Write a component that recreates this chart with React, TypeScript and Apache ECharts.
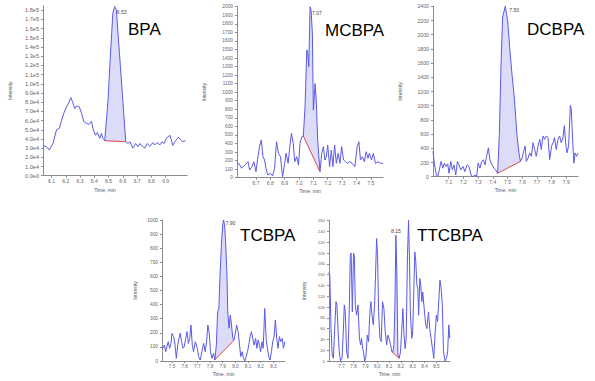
import React, { useEffect, useRef } from 'react';
import * as echarts from 'echarts';

// ---------- BPA ----------
const bpaTime = [6.04, 6.064, 6.084, 6.11, 6.135, 6.154, 6.17, 6.186, 6.205, 6.22, 6.235, 6.247, 6.263, 6.275, 6.294, 6.31, 6.326, 6.345, 6.363, 6.38, 6.39, 6.408, 6.422, 6.438, 6.45, 6.46, 6.473, 6.496, 6.515, 6.53, 6.543, 6.555, 6.566, 6.583, 6.6, 6.62, 6.636, 6.65, 6.67, 6.69, 6.706, 6.72, 6.737, 6.755, 6.77, 6.79, 6.81, 6.825, 6.84, 6.86, 6.875, 6.89, 6.904, 6.93, 6.94, 6.95, 6.965, 6.975, 6.99, 7.005, 7.02, 7.04];
const bpaIntensity = [32700, 31600, 28000, 35000, 50000, 51500, 60000, 68000, 75000, 79000, 85000, 80500, 73000, 76000, 75000, 68000, 59000, 57000, 56000, 59000, 51500, 44000, 47000, 40600, 46000, 40600, 38000, 82000, 137000, 177000, 184000, 180000, 155000, 119000, 82000, 37000, 35000, 37000, 30000, 35000, 31600, 35000, 32000, 30000, 35000, 32000, 36000, 33500, 36000, 33500, 37000, 35000, 40600, 44000, 39000, 33000, 37000, 39000, 42000, 39000, 37000, 38000];
const bpaPeakRange = [6.473, 6.62];
const bpaXTicks = [6.1, 6.2, 6.3, 6.4, 6.5, 6.6, 6.7, 6.8, 6.9];
const bpaYTicks = [0, 10000, 20000, 30000, 40000, 50000, 60000, 70000, 80000, 90000, 100000, 110000, 120000, 130000, 140000, 150000, 160000, 170000, 180000];

// ---------- MCBPA ----------
const mcbpaTime = [6.568, 6.58, 6.6, 6.614, 6.63, 6.645, 6.656, 6.672, 6.686, 6.7, 6.714, 6.725, 6.737, 6.749, 6.76, 6.772, 6.783, 6.8, 6.816, 6.83, 6.843, 6.857, 6.871, 6.885, 6.9, 6.91, 6.924, 6.936, 6.947, 6.96, 6.97, 6.984, 6.996, 7.007, 7.02, 7.03, 7.042, 7.054, 7.06, 7.068, 7.077, 7.084, 7.093, 7.1, 7.112, 7.12, 7.13, 7.14, 7.146, 7.158, 7.17, 7.18, 7.19, 7.2, 7.213, 7.225, 7.236, 7.248, 7.26, 7.273, 7.285, 7.297, 7.31, 7.324, 7.338, 7.354, 7.37, 7.389, 7.405, 7.417, 7.428, 7.442, 7.455, 7.468, 7.48, 7.49, 7.505, 7.518, 7.532, 7.55, 7.568, 7.585];
const mcbpaIntensity = [175, 168, 110, 137, 160, 187, 90, 129, 187, 70, 246, 363, 440, 246, 207, 90, 31, 51, 20, 110, 421, 285, 246, 12, 168, 285, 168, 363, 519, 402, 187, 246, 148, 402, 480, 488, 830, 1494, 1474, 1300, 2000, 1960, 1690, 790, 1100, 910, 440, 207, 70, 285, 363, 207, 246, 382, 129, 324, 129, 382, 168, 285, 168, 363, 207, 187, 168, 187, 168, 129, 363, 421, 207, 246, 187, 304, 226, 285, 207, 285, 168, 187, 168, 168];
const mcbpaPeakRange = [7.03, 7.146];
const mcbpaXTicks = [6.7, 6.8, 6.9, 7.0, 7.1, 7.2, 7.3, 7.4, 7.5];
const mcbpaYTicks = [0, 100, 200, 300, 400, 500, 600, 700, 800, 900, 1000, 1100, 1200, 1300, 1400, 1500, 1600, 1700, 1800, 1900, 2000];

// ---------- DCBPA ----------
const dcbpaTime = [6.993, 7.002, 7.016, 7.025, 7.036, 7.048, 7.06, 7.07, 7.082, 7.093, 7.102, 7.114, 7.125, 7.136, 7.148, 7.159, 7.17, 7.182, 7.197, 7.21, 7.225, 7.238, 7.252, 7.265, 7.28, 7.29, 7.3, 7.313, 7.324, 7.336, 7.347, 7.358, 7.37, 7.38, 7.395, 7.408, 7.42, 7.433, 7.445, 7.456, 7.467, 7.485, 7.501, 7.515, 7.531, 7.547, 7.565, 7.578, 7.588, 7.6, 7.61, 7.62, 7.628, 7.64, 7.651, 7.662, 7.674, 7.685, 7.696, 7.708, 7.72, 7.73, 7.742, 7.753, 7.765, 7.776, 7.787, 7.8, 7.81, 7.82, 7.832, 7.844, 7.855, 7.866, 7.878, 7.887, 7.896, 7.905, 7.916, 7.928, 7.934, 7.943, 7.952, 7.96, 7.97, 7.98];
const dcbpaIntensity = [359, 191, 24, 0, 96, 215, 120, 191, 144, 182, 48, 215, 96, 167, 24, 215, 167, 96, 144, 72, 167, 144, 24, 0, 24, 0, 191, 120, 215, 239, 167, 287, 407, 239, 167, 120, 96, 48, 622, 1579, 2249, 2400, 2201, 1818, 1435, 1100, 574, 335, 215, 263, 359, 431, 215, 263, 335, 287, 478, 383, 287, 431, 526, 383, 574, 526, 574, 550, 239, 431, 478, 550, 383, 526, 574, 478, 550, 718, 478, 335, 431, 1005, 957, 526, 191, 335, 287, 335];
const dcbpaPeakRange = [7.433, 7.588];
const dcbpaXTicks = [7.1, 7.2, 7.3, 7.4, 7.5, 7.6, 7.7, 7.8, 7.9];
const dcbpaYTicks = [0, 200, 400, 600, 800, 1000, 1200, 1400, 1600, 1800, 2000, 2200, 2400];

// ---------- TCBPA ----------
const tcbpaTime = [7.421, 7.427, 7.44, 7.45, 7.46, 7.47, 7.481, 7.492, 7.5, 7.513, 7.524, 7.534, 7.545, 7.555, 7.565, 7.576, 7.587, 7.597, 7.608, 7.618, 7.629, 7.64, 7.65, 7.66, 7.67, 7.684, 7.7, 7.71, 7.723, 7.736, 7.75, 7.762, 7.773, 7.783, 7.794, 7.804, 7.815, 7.828, 7.838, 7.85, 7.86, 7.87, 7.88, 7.89, 7.9, 7.907, 7.915, 7.923, 7.933, 7.94, 7.95, 7.96, 7.97, 7.98, 7.99, 8.0, 8.01, 8.022, 8.033, 8.043, 8.054, 8.064, 8.075, 8.085, 8.096, 8.106, 8.117, 8.127, 8.138, 8.148, 8.16, 8.17, 8.18, 8.19, 8.2, 8.21, 8.22, 8.232, 8.243, 8.253, 8.264, 8.274, 8.285, 8.295, 8.306, 8.316, 8.327, 8.337, 8.348, 8.358, 8.37, 8.38, 8.39];
const tcbpaIntensity = [100, 90, 113, 66, 102, 137, 90, 125, 196, 173, 113, 19, 113, 160, 196, 137, 90, 102, 160, 208, 125, 160, 255, 113, 66, 137, 90, 31, 7, 66, 125, 66, 137, 255, 196, 66, 19, 54, 7, 113, 350, 373, 633, 822, 964, 1000, 964, 846, 633, 350, 232, 326, 255, 160, 149, 196, 255, 208, 113, 31, 66, 19, 0, 31, 66, 113, 173, 208, 160, 113, 160, 90, 149, 113, 66, 137, 90, 373, 160, 90, 31, 7, 66, 137, 173, 291, 160, 90, 173, 137, 160, 90, 137];
const tcbpaPeakRange = [7.838, 7.99];
const tcbpaXTicks = [7.5, 7.6, 7.7, 7.8, 7.9, 8.0, 8.1, 8.2, 8.3];
const tcbpaYTicks = [0, 100, 200, 300, 400, 500, 600, 700, 800, 900, 1000];

// ---------- TTCBPA ----------
const ttcbpaTime = [7.593, 7.6, 7.61, 7.62, 7.63, 7.64, 7.652, 7.66, 7.67, 7.68, 7.69, 7.703, 7.714, 7.722, 7.73, 7.742, 7.753, 7.765, 7.773, 7.78, 7.79, 7.8, 7.807, 7.815, 7.826, 7.838, 7.85, 7.86, 7.868, 7.877, 7.885, 7.894, 7.905, 7.916, 7.927, 7.94, 7.947, 7.956, 7.967, 7.978, 7.986, 7.995, 8.003, 8.012, 8.023, 8.034, 8.045, 8.057, 8.068, 8.08, 8.09, 8.1, 8.113, 8.124, 8.133, 8.141, 8.15, 8.158, 8.166, 8.175, 8.186, 8.197, 8.208, 8.217, 8.225, 8.236, 8.245, 8.256, 8.265, 8.273, 8.28, 8.292, 8.3, 8.31, 8.318, 8.326, 8.335, 8.343, 8.35, 8.36, 8.368, 8.377, 8.385, 8.394, 8.402, 8.41, 8.42, 8.433, 8.444, 8.455, 8.467, 8.478, 8.49, 8.5, 8.51, 8.523, 8.53, 8.54, 8.55, 8.56, 8.573, 8.585, 8.595, 8.605, 8.613];
const ttcbpaIntensity = [165, 159, 60, 11, 5, 54, 110, 104, 54, 17, 0, 5, 54, 104, 91, 17, 5, 104, 196, 200, 91, 200, 196, 104, 85, 104, 42, 30, 42, 23, 17, 0, 8, 48, 36, 97, 110, 85, 67, 104, 159, 227, 196, 91, 42, 36, 110, 97, 54, 30, 48, 42, 30, 17, 17, 30, 104, 233, 165, 11, 5, 17, 60, 97, 54, 23, 42, 196, 261, 184, 91, 42, 54, 135, 202, 184, 141, 135, 85, 153, 141, 110, 128, 104, 85, 67, 60, 91, 60, 42, 23, 5, 54, 85, 73, 122, 150, 135, 104, 17, 0, 5, 17, 67, 42];
const ttcbpaPeakRange = [8.124, 8.186];
const ttcbpaXTicks = [7.7, 7.8, 7.9, 8.0, 8.1, 8.2, 8.3, 8.4, 8.5];
const ttcbpaYTicks = [0, 20, 40, 60, 80, 100, 120, 140, 160, 180, 200, 220, 240, 260];

const compoundNames = ['BPA', 'MCBPA', 'DCBPA', 'TCBPA', 'TTCBPA'];
const peakLabels = ['6.53', '7.07', '7.50', '7.90', '8.15'];

const LINE = '#5a5ae6';
const AXIS = '#8c8c8c';

function sciLabel(v: number): string {
  if (v === 0) return '0.0e0';
  if (v >= 100000) return (v / 100000).toFixed(1) + 'e5';
  return (v / 10000).toFixed(1) + 'e4';
}

type Panel = {
  time: number[]; vals: number[]; range: number[]; xTicks: number[]; yTicks: number[];
  grid: { left: number; top: number; width: number; height: number };
  xMin: number; xMax: number; yMax: number;
  yFont: number; xFont: number; yFmt?: (v: number) => string;
  nameGapY: number; nameGapX: number; xNamePad?: number[];
  labelPos: string; labelOffset: number[];
  title: { x: number; y: number };
};

const panels: Panel[] = [
  { time: bpaTime, vals: bpaIntensity, range: bpaPeakRange, xTicks: bpaXTicks, yTicks: bpaYTicks,
    grid: { left: 43, top: 5.7, width: 144, height: 170 }, xMin: 6.04, xMax: 7.05, yMax: 185000,
    yFont: 5.6, xFont: 5, yFmt: sciLabel, nameGapY: 31, nameGapX: 12, xNamePad: [0, 20, 0, 0],
    labelPos: 'right', labelOffset: [0, 5], title: { x: 128, y: 29.5 } },
  { time: mcbpaTime, vals: mcbpaIntensity, range: mcbpaPeakRange, xTicks: mcbpaXTicks, yTicks: mcbpaYTicks,
    grid: { left: 237, top: 6.7, width: 146, height: 171 }, xMin: 6.568, xMax: 7.585, yMax: 2000,
    yFont: 4.8, xFont: 5, nameGapY: 31, nameGapX: 11,
    labelPos: 'right', labelOffset: [0, 6], title: { x: 325, y: 30 } },
  { time: dcbpaTime, vals: dcbpaIntensity, range: dcbpaPeakRange, xTicks: dcbpaXTicks, yTicks: dcbpaYTicks,
    grid: { left: 433, top: 6.3, width: 145, height: 170.4 }, xMin: 6.993, xMax: 7.98, yMax: 2400,
    yFont: 5.2, xFont: 5, nameGapY: 31, nameGapX: 11,
    labelPos: 'right', labelOffset: [2, 4], title: { x: 527, y: 29.5 } },
  { time: tcbpaTime, vals: tcbpaIntensity, range: tcbpaPeakRange, xTicks: tcbpaXTicks, yTicks: tcbpaYTicks,
    grid: { left: 162, top: 220, width: 123, height: 141 }, xMin: 7.421, xMax: 8.392, yMax: 1000,
    yFont: 4.8, xFont: 4.6, nameGapY: 25, nameGapX: 10,
    labelPos: 'right', labelOffset: [0, 3], title: { x: 240, y: 235 } },
  { time: ttcbpaTime, vals: ttcbpaIntensity, range: ttcbpaPeakRange, xTicks: ttcbpaXTicks, yTicks: ttcbpaYTicks,
    grid: { left: 329, top: 220.7, width: 121, height: 140.3 }, xMin: 7.593, xMax: 8.615, yMax: 260,
    yFont: 4.3, xFont: 4.6, nameGapY: 23, nameGapX: 10,
    labelPos: 'top', labelOffset: [0, 0], title: { x: 417, y: 235 } },
];

function buildOption() {
  const grid: any[] = [];
  const xAxis: any[] = [];
  const yAxis: any[] = [];
  const series: any[] = [];
  const graphic: any[] = [];

  panels.forEach((p, i) => {
    grid.push({ ...p.grid, containLabel: false });
    xAxis.push({
      type: 'value', gridIndex: i, min: p.xMin, max: p.xMax,
      axisLine: { show: true, onZero: false, lineStyle: { color: AXIS, width: 1 } },
      axisTick: { show: true, length: 2, customValues: p.xTicks, lineStyle: { color: AXIS } },
      axisLabel: { customValues: p.xTicks, formatter: (v: number) => v.toFixed(1), fontSize: p.xFont, color: '#666', margin: 3, fontFamily: 'Arial' },
      splitLine: { show: false },
      name: 'Time, min', nameLocation: 'middle', nameGap: p.nameGapX,
      nameTextStyle: { fontSize: 5, color: '#555', fontFamily: 'Arial', padding: p.xNamePad || 0 },
    });
    yAxis.push({
      type: 'value', gridIndex: i, min: 0, max: p.yMax,
      axisLine: { show: true, onZero: false, lineStyle: { color: AXIS, width: 1 } },
      axisTick: { show: true, length: 2, customValues: p.yTicks, lineStyle: { color: AXIS } },
      axisLabel: { customValues: p.yTicks, formatter: p.yFmt ? p.yFmt : (v: number) => String(v), fontSize: p.yFont, color: '#666', margin: 4, fontFamily: 'Arial' },
      splitLine: { show: false },
      name: 'Intensity', nameLocation: 'middle', nameGap: p.nameGapY, nameRotate: 90,
      nameTextStyle: { fontSize: 5, color: '#555', fontFamily: 'Arial' },
    });

    const pts = p.time.map((t, k) => [t, p.vals[k]]);
    const peakPts = pts.filter((q) => q[0] >= p.range[0] - 1e-9 && q[0] <= p.range[1] + 1e-9);
    const top = peakPts.reduce((a, b) => (b[1] > a[1] ? b : a), peakPts[0]);
    const ends = [peakPts[0], peakPts[peakPts.length - 1]];

    series.push({
      type: 'custom', xAxisIndex: i, yAxisIndex: i, coordinateSystem: 'cartesian2d', silent: true, z: 2,
      data: [peakPts[0]],
      renderItem: (_params: any, api: any) => ({
        type: 'polygon',
        shape: { points: peakPts.map((q) => api.coord(q)) },
        style: { fill: 'rgba(130,130,235,0.28)', stroke: 'none' },
      }),
    });
    series.push({
      type: 'line', xAxisIndex: i, yAxisIndex: i, data: pts, showSymbol: false, silent: true, z: 3,
      lineStyle: { color: LINE, width: 1 }, itemStyle: { color: LINE },
      markPoint: {
        symbol: 'circle', symbolSize: 0, silent: true,
        data: [{ coord: top, value: peakLabels[i] }],
        label: { show: true, position: p.labelPos, distance: 2, offset: p.labelOffset, formatter: peakLabels[i], fontSize: 5, color: '#444', fontFamily: 'Arial' },
      },
    });
    series.push({
      type: 'line', xAxisIndex: i, yAxisIndex: i, data: ends, showSymbol: false, silent: true, z: 4,
      lineStyle: { color: '#e04848', width: 1 }, itemStyle: { color: '#e04848' },
    });

    graphic.push({
      type: 'text', x: p.title.x, y: p.title.y,
      style: { text: compoundNames[i], fontSize: 17, fontFamily: 'Arial', fill: '#000', verticalAlign: 'middle', align: 'left' },
    });
  });

  return { animation: false, backgroundColor: '#fff', grid, xAxis, yAxis, series, graphic };
}

export default function App() {
  const ref = useRef<HTMLDivElement>(null);
  useEffect(() => {
    if (!ref.current) return;
    const chart = echarts.init(ref.current, undefined, { renderer: 'svg' });
    chart.setOption(buildOption() as any);
    return () => chart.dispose();
  }, []);
  return <div ref={ref} style={{ width: 595, height: 381, position: 'absolute', left: 0, top: 0 }} />;
}
